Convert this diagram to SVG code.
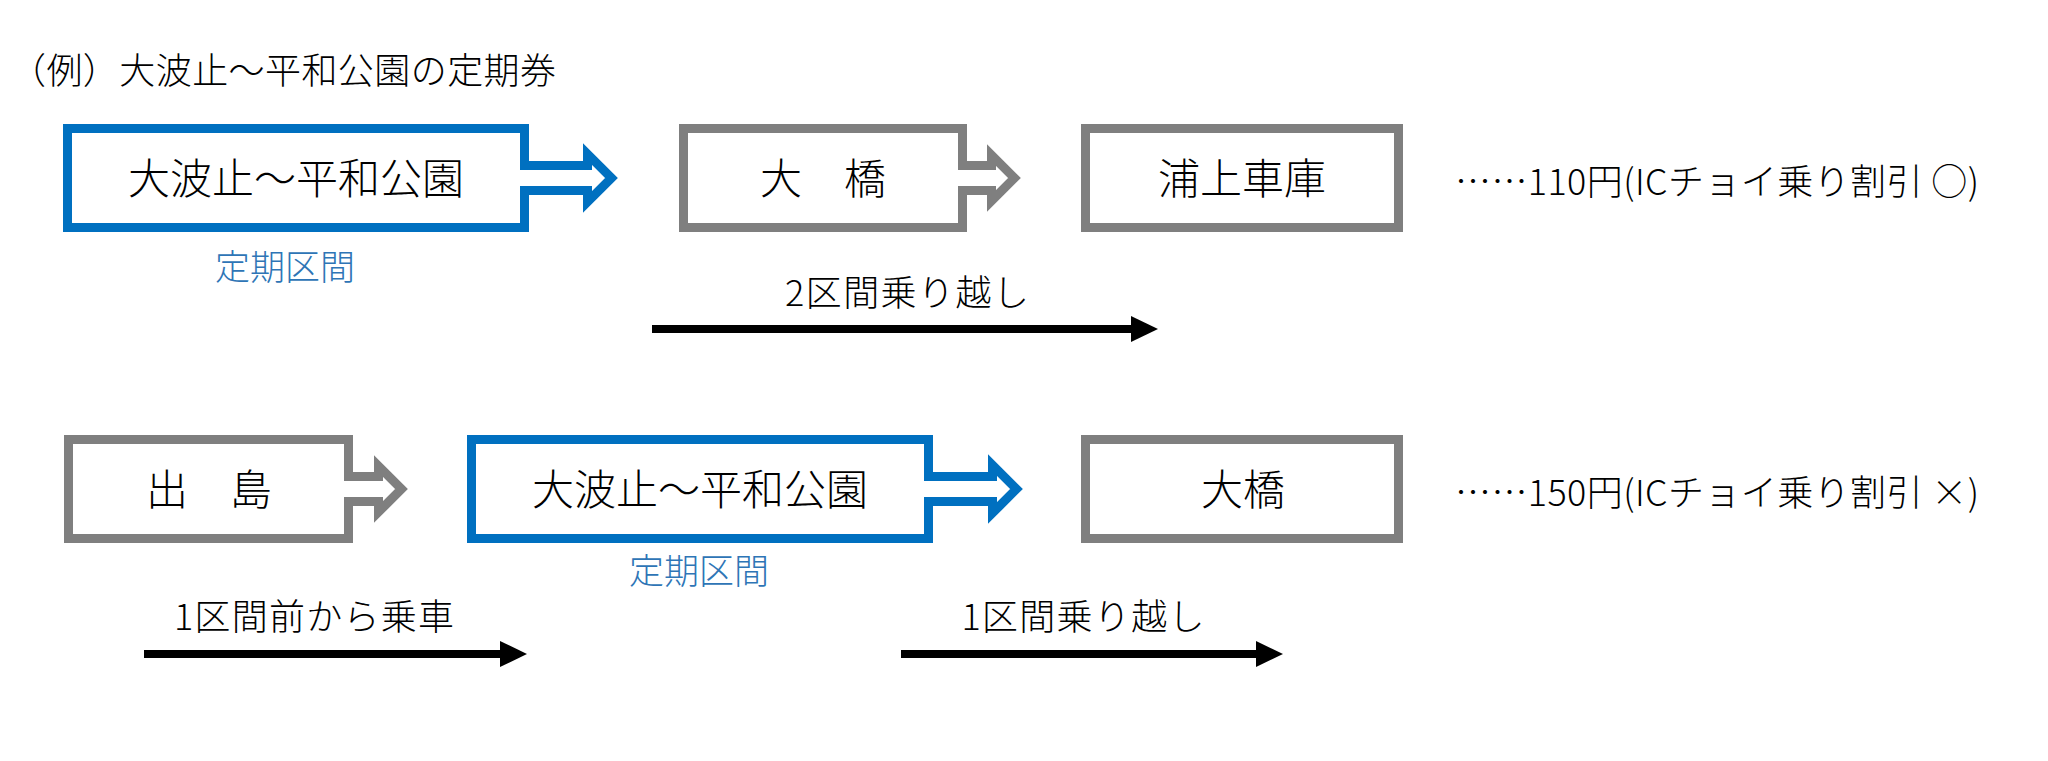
<svg xmlns="http://www.w3.org/2000/svg" width="2048" height="761" viewBox="0 0 2048 761">
<style>
text{font-family:"Noto Sans CJK JP","Noto Sans",sans-serif;font-weight:300;fill:#000}
.blue{fill:none;stroke:#0070C0;stroke-width:9;stroke-linejoin:miter;stroke-miterlimit:10}
.gray{fill:none;stroke:#7F7F7F;stroke-width:9;stroke-linejoin:miter;stroke-miterlimit:10}
.big{font-size:42px;text-anchor:middle}
.sec{font-size:35px;text-anchor:middle;fill:#2E75B6}
.lbl{font-size:36px;text-anchor:middle}
.price{font-size:36px}
.conn{stroke:#000;stroke-width:8;fill:none}
</style>
<defs>
<marker id="ah" viewBox="0 0 27 26" refX="0" refY="13" markerWidth="27" markerHeight="26" markerUnits="userSpaceOnUse" orient="auto">
<path d="M0,0 L27,13 L0,26 Z" fill="#000"/>
</marker>
</defs>
<rect width="2048" height="761" fill="#fff"/>
<text id="title" x="10" y="84" style="font-size:36px" textLength="546">（例）大波止～平和公園の定期券</text>

<g id="node-top-ohato">
<path class="blue" d="M67.5,128.5 H524.5 V165.5 H587.5 V154 L611.5,178 L587.5,202 V190.5 H524.5 V227.5 H67.5 Z"/>
<text class="big" x="296" y="194">大波止～平和公園</text>
<text class="sec" x="285" y="280">定期区間</text>
</g>
<g id="node-top-ohashi">
<path class="gray" d="M683.5,128.5 H962.5 V165.5 H991.5 V155 L1014.5,178 L991.5,201 V190.5 H962.5 V227.5 H683.5 Z"/>
<text class="big" x="823" y="194">大　橋</text>
</g>
<g id="node-top-urakami">
<rect class="gray" x="1085.5" y="128.5" width="313" height="99"/>
<text class="big" x="1242" y="194">浦上車庫</text>
</g>
<text id="price1" class="price" x="1455" y="195" textLength="524">……110円(ICチョイ乗り割引 ○)</text>

<g id="node-bot-dejima">
<path class="gray" d="M68.5,439.5 H348.5 V476.5 H378.5 V466 L401.5,489 L378.5,512 V501.5 H348.5 V538.5 H68.5 Z"/>
<text class="big" x="209" y="505">出　島</text>
</g>
<g id="node-bot-ohato">
<path class="blue" d="M471.5,439.5 H928.5 V476.5 H992.5 V465 L1016.5,489 L992.5,513 V501.5 H928.5 V538.5 H471.5 Z"/>
<text class="big" x="700" y="505">大波止～平和公園</text>
<text class="sec" x="699" y="584">定期区間</text>
</g>
<g id="node-bot-ohashi">
<rect class="gray" x="1085.5" y="439.5" width="313" height="99"/>
<text class="big" x="1243" y="505">大橋</text>
</g>
<text id="price2" class="price" x="1455" y="506" textLength="524">……150円(ICチョイ乗り割引 ×)</text>

<g id="connectors">
<line class="conn" x1="652" y1="329" x2="1131" y2="329" marker-end="url(#ah)"/>
<text class="lbl" x="907" y="306" textLength="244">2区間乗り越し</text>
<line class="conn" x1="144" y1="654" x2="500" y2="654" marker-end="url(#ah)"/>
<text class="lbl" x="314" y="630" textLength="280">1区間前から乗車</text>
<line class="conn" x1="901" y1="654" x2="1256" y2="654" marker-end="url(#ah)"/>
<text class="lbl" x="1083" y="630" textLength="243">1区間乗り越し</text>
</g>
</svg>
